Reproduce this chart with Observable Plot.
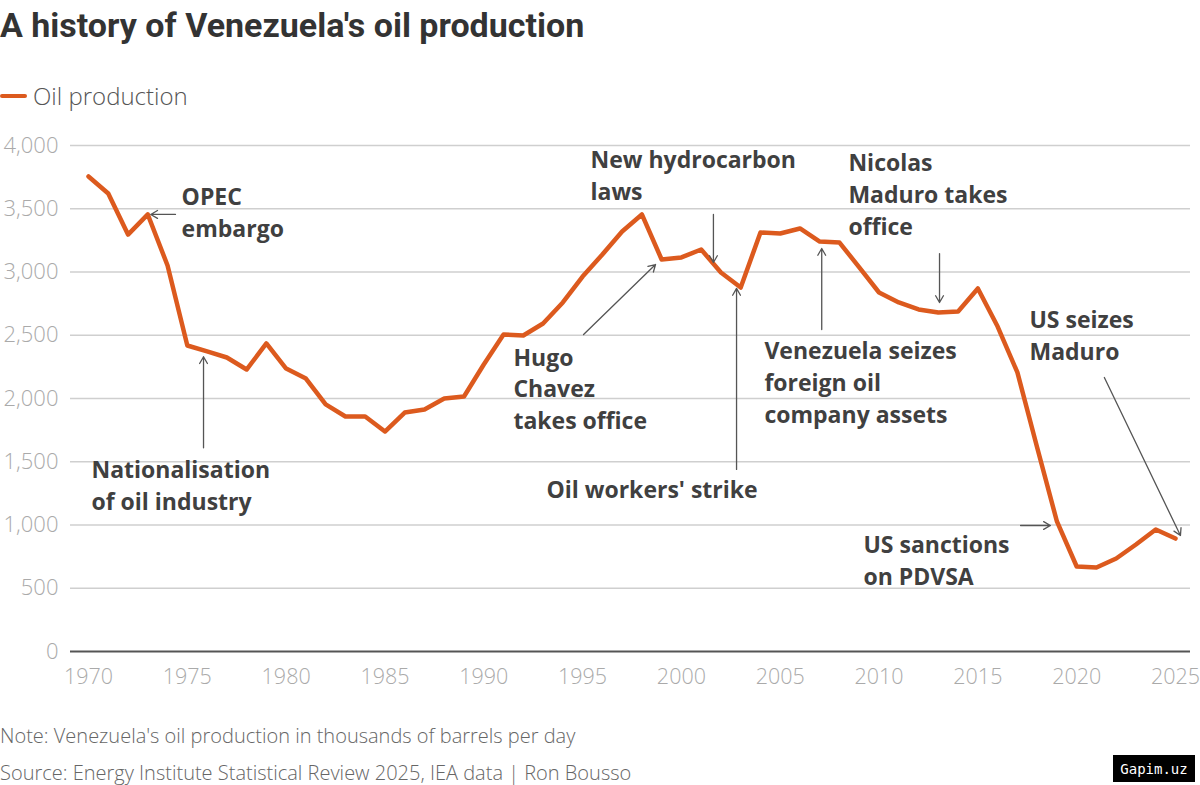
<!DOCTYPE html>
<html><head><meta charset="utf-8">
<script src="https://cdn.jsdelivr.net/npm/d3@7"></script>
<script src="https://cdn.jsdelivr.net/npm/@observablehq/plot@0.6"></script>
<style>
body{margin:0;background:#fff;width:1200px;height:785px;position:relative;overflow:hidden;font-family:Roboto,sans-serif}
#title{position:absolute;left:0;top:5px;font-size:34px;font-weight:700;color:#333;white-space:nowrap}
#legend{position:absolute;left:0;top:79px;font-size:24px;font-family:"Open Sans",sans-serif;font-weight:300;color:#555;display:flex;align-items:center}
#legend .sw{width:27px;height:4px;background:#dc5a1e;margin-right:6px;border-radius:2px}
#chart{position:absolute;left:0;top:130px}
.foot{position:absolute;left:0;font-size:20px;font-family:"Open Sans",sans-serif;font-weight:300;color:#666;white-space:nowrap}
#wm{position:absolute;left:1113px;top:755px;width:82px;height:27px;background:#000;color:#fff;font-family:"DejaVu Sans Mono",monospace;font-size:14px;display:flex;align-items:center;justify-content:center}
</style></head><body>
<div id="title">A history of Venezuela's oil production</div>
<div id="legend"><span class="sw"></span><span>Oil production</span></div>
<div id="chart"></div>
<div class="foot" style="top:722px">Note: Venezuela's oil production in thousands of barrels per day</div>
<div class="foot" style="top:759px">Source: Energy Institute Statistical Review 2025, IEA data | Ron Bousso</div>
<div id="wm">Gapim.uz</div>
<script>
const years = [1970,1971,1972,1973,1974,1975,1976,1977,1978,1979,1980,1981,1982,1983,1984,1985,1986,1987,1988,1989,1990,1991,1992,1993,1994,1995,1996,1997,1998,1999,2000,2001,2002,2003,2004,2005,2006,2007,2008,2009,2010,2011,2012,2013,2014,2015,2016,2017,2018,2019,2020,2021,2022,2023,2024,2025];
const production = [3755,3620,3296,3455,3051,2419,2372,2324,2229,2435,2237,2158,1953,1858,1858,1739,1889,1913,2000,2016,2269,2506,2498,2593,2759,2964,3138,3320,3455,3099,3115,3178,2996,2877,3312,3304,3344,3241,3233,3036,2838,2759,2704,2680,2688,2870,2569,2206,1613,1028,672,664,735,846,964,893];
const yTicks = [0,500,1000,1500,2000,2500,3000,3500,4000];
const xTicks = [1970,1975,1980,1985,1990,1995,2000,2005,2010,2015,2020,2025];

// annotation labels (anchored at top-left, data units)
const labelText = ["OPEC\nembargo","Nationalisation\nof oil industry","New hydrocarbon\nlaws","Hugo\nChavez\ntakes office","Oil workers' strike","Venezuela seizes\nforeign oil\ncompany assets","Nicolas\nMaduro takes\noffice","US seizes\nMaduro","US sanctions\non PDVSA"];
const labelYear = [1974.71,1970.15,1995.40,1991.50,1993.17,2004.20,2008.45,2017.61,2009.21];
const labelValue = [3710,1550,4000,2440,1390,2495,3980,2740,955];

// annotation arrows (data units)
const arrowYear1 = [1974.4,1975.82,2001.62,1995.05,2002.79,2007.10,2013.06,2021.40,2017.16];
const arrowValue1 = [3455,1610,3455,2506,1439,2545,3146,2166,996];
const arrowYear2 = [1973.15,1975.82,2001.62,1998.69,2002.79,2007.10,2013.06,2025.25,2018.67];
const arrowValue2 = [3455,2330,3075,3059,2870,3186,2759,917,996];

const series = years.map((year,i)=>({year, value: production[i]}));
const labels = labelText.map((text,i)=>({text, year: labelYear[i], value: labelValue[i]}));
const arrows = arrowYear1.map((x1,i)=>({x1, y1: arrowValue1[i], x2: arrowYear2[i], y2: arrowValue2[i]}));

const chart = Plot.plot({
  width: 1200,
  height: 570,
  marginTop: 15,
  marginBottom: 49,
  marginLeft: 70,
  marginRight: 10,
  style: {fontFamily: "'Open Sans', sans-serif", background: "transparent"},
  x: {domain: [1970, 2025], insetLeft: 18, insetRight: 15},
  y: {domain: [0, 4000]},
  marks: [
    Plot.ruleY(yTicks.filter(d => d > 0), {stroke: "#cfcfcf", strokeWidth: 1.3}),
    Plot.axisY(yTicks, {tickSize: 0, tickPadding: 12, fontSize: 22, fontWeight: 300, color: "#aaaaaa", tickFormat: d3.format(","), label: null}),
    Plot.axisX(xTicks, {tickSize: 0, tickPadding: 17, fontSize: 21.5, fontWeight: 300, color: "#aaaaaa", tickFormat: d => String(d), label: null}),
    Plot.ruleY([0], {stroke: "#555", strokeWidth: 2}),
    Plot.line(series, {x: "year", y: "value", stroke: "#dc5a1e", strokeWidth: 4.5}),
    Plot.arrow(arrows, {x1: "x1", y1: "y1", x2: "x2", y2: "y2", stroke: "#555", strokeWidth: 1.3, headLength: 9}),
    Plot.text(labels, {x: "year", y: "value", text: "text", textAnchor: "start", lineAnchor: "top", fontSize: 23, fontWeight: 700, fill: "#404040", lineHeight: 1.39})
  ]
});
document.getElementById("chart").appendChild(chart);
</script>
</body></html>
